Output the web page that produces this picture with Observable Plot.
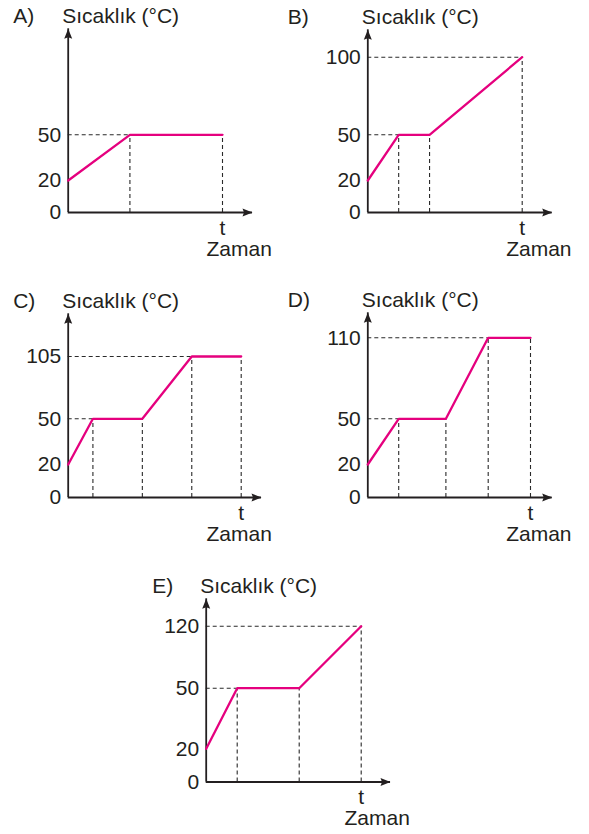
<!DOCTYPE html>
<html>
<head>
<meta charset="utf-8">
<script src="https://cdn.jsdelivr.net/npm/d3@7"></script>
<script src="https://cdn.jsdelivr.net/npm/@observablehq/plot@0.6"></script>
<style>
html, body { margin: 0; padding: 0; background: #ffffff; }
#chart { position: relative; width: 589px; height: 834px; overflow: hidden; }
#chart svg { position: absolute; left: 0; top: 0; }
</style>
</head>
<body>
<div id="chart"></div>
<script>
// ---- Data ----
const panelLabels = ["A)", "B)", "C)", "D)", "E)"];
const yTitle = "Sıcaklık (°C)";
const xTitle = "Zaman";
const tLabel = "t";

const timesA = [0, 4, 10];
const tempsA = [20, 50, 50];
const ticksA = [0, 20, 50];

const timesB = [0, 2, 4, 10];
const tempsB = [20, 50, 50, 100];
const ticksB = [0, 20, 50, 100];

const timesC = [0, 1, 3, 5, 7];
const tempsC = [20, 50, 50, 105, 105];
const ticksC = [0, 20, 50, 105];

const timesD = [0, 1.9, 4.8, 7.4, 10];
const tempsD = [20, 50, 50, 110, 110];
const ticksD = [0, 20, 50, 110];

const timesE = [0, 2, 6, 10];
const tempsE = [20, 50, 50, 120];
const ticksE = [0, 20, 50, 120];

// ---- Layout (scale ranges, frame) ----
const W = 589, H = 834;
const layouts = [
  {ox: 67.7,  oy: 212,   tipX: 252,   tipY: 28.3,  tX: 222,   yPix: [212, 180, 134.3],            labelDx: -55},
  {ox: 367.3, oy: 212,   tipX: 551.7, tipY: 29.3,  tX: 521.7, yPix: [212, 180, 134.3, 56.7],      labelDx: -80},
  {ox: 67.7,  oy: 497,   tipX: 261,   tipY: 313.3, tX: 240.7, yPix: [497, 464, 418.3, 356],       labelDx: -55},
  {ox: 367.3, oy: 497,   tipX: 551.7, tipY: 312.3, tX: 530,   yPix: [497, 464, 418.3, 337.3],     labelDx: -80},
  {ox: 205.7, oy: 781.5, tipX: 390,   tipY: 598.3, tX: 360.7, yPix: [781.5, 748.3, 687.7, 625.7], labelDx: -54}
];

const INK = "#231f20";
const MAGENTA = "#e5007e";
const FONT = "'Liberation Sans', Arial, Helvetica, sans-serif";
const FS = 21;

const arrowUp = {
  draw(ctx, size) {
    const r = Math.sqrt(size / Math.PI), L = 2.5 * r, w = 1.0 * r;
    ctx.moveTo(0, 0); ctx.lineTo(w, L); ctx.lineTo(0, 0.85 * L); ctx.lineTo(-w, L); ctx.closePath();
  }
};
const arrowRight = {
  draw(ctx, size) {
    const r = Math.sqrt(size / Math.PI), L = 2.5 * r, w = 1.0 * r;
    ctx.moveTo(0, 0); ctx.lineTo(-L, w); ctx.lineTo(-0.85 * L, 0); ctx.lineTo(-L, -w); ctx.closePath();
  }
};

function makePanel(label, times, temps, ticks, L) {
  const pts = times.map((t, k) => ({time: t, temp: temps[k]}));
  const levels = pts.filter((p, k) => k > 0 && p.temp !== pts[k - 1].temp);
  const breaks = pts.slice(1);
  const tEnd = times[times.length - 1];
  return Plot.plot({
    width: W, height: H,
    marginLeft: L.ox, marginRight: W - L.tipX, marginTop: L.tipY, marginBottom: H - L.oy,
    style: {background: "transparent", fontFamily: FONT, fontSize: FS + "px", color: INK, overflow: "visible"},
    x: {type: "linear", domain: [0, tEnd], range: [L.ox, L.tX], axis: null},
    y: {type: "linear", domain: ticks, range: L.yPix, axis: null},
    marks: [
      Plot.axisY(ticks, {tickSize: 0, tickPadding: 7, label: null, fontSize: FS, fill: INK}),
      Plot.ruleX(breaks, {x: "time", y1: () => 0, y2: "temp", stroke: "#2a2a2a", strokeWidth: 1.1, strokeDasharray: "4,3"}),
      Plot.ruleY(levels, {y: "temp", x1: () => 0, x2: "time", stroke: "#2a2a2a", strokeWidth: 1.1, strokeDasharray: "4,3"}),
      Plot.ruleX([0], {x: d => d, stroke: INK, strokeWidth: 1.8}),
      Plot.ruleY([0], {y: d => d, stroke: INK, strokeWidth: 1.8}),
      Plot.dot([0], {x: d => d, frameAnchor: "top", symbol: arrowUp, r: 4, fill: INK, stroke: "none"}),
      Plot.dot([0], {y: d => d, frameAnchor: "right", symbol: arrowRight, r: 4, fill: INK, stroke: "none"}),
      Plot.line(pts, {x: "time", y: "temp", stroke: MAGENTA, strokeWidth: 2.3, strokeLinejoin: "miter"}),
      Plot.text([tLabel], {x: () => tEnd, y: () => 0, text: d => d, dy: 22, lineAnchor: "bottom", fontSize: FS, fill: INK}),
      Plot.text([xTitle], {x: () => 0, y: () => 0, text: d => d, dx: 171, dy: 43, lineAnchor: "bottom", fontSize: FS, fill: INK}),
      Plot.text([yTitle], {x: () => 0, frameAnchor: "top", text: d => d, dx: -6, dy: -6, textAnchor: "start", lineAnchor: "bottom", fontSize: FS, fill: INK}),
      Plot.text([label], {x: () => 0, frameAnchor: "top", text: d => d, dx: L.labelDx, dy: -6, textAnchor: "start", lineAnchor: "bottom", fontSize: FS, fill: INK})
    ]
  });
}

const chart = document.getElementById("chart");
const all = [
  [timesA, tempsA, ticksA],
  [timesB, tempsB, ticksB],
  [timesC, tempsC, ticksC],
  [timesD, tempsD, ticksD],
  [timesE, tempsE, ticksE]
];
all.forEach(([ti, te, tk], i) => {
  chart.appendChild(makePanel(panelLabels[i], ti, te, tk, layouts[i]));
});
</script>
</body>
</html>
